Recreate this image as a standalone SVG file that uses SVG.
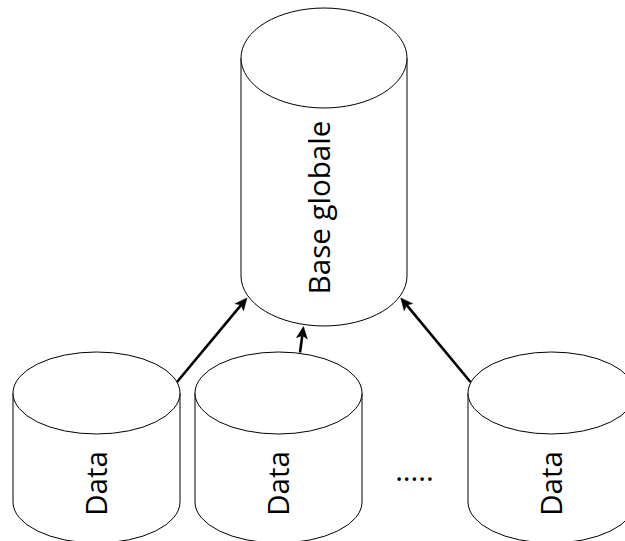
<svg xmlns="http://www.w3.org/2000/svg" width="625" height="541" viewBox="0 0 625 541">
<style>
.cyl{fill:#fff;stroke:#000;stroke-width:1}
.lbl{font-family:"Open Sans","DejaVu Sans",sans-serif;font-size:29.5px;fill:#000;text-anchor:middle}
.edge{fill:none;stroke:#000;stroke-width:2.6}
</style>
<defs>
<marker id="arr" markerUnits="userSpaceOnUse" markerWidth="14" markerHeight="12" viewBox="0 -6 13 12" refX="3" refY="0" orient="auto">
<path d="M12,0 L0,-5.5 L3,0 L0,5.5 Z" fill="#000" stroke="#000" stroke-width="0.5"/>
</marker>
</defs>
<rect width="625" height="541" fill="#fff"/>
<g id="base-globale">
<path class="cyl" d="M241,58 A83,50 0 0 1 407,58 L407,276 A83,50 0 0 1 241,276 Z"/>
<path class="cyl" fill="none" d="M241,58 A83,50 0 0 0 407,58"/>
<text class="lbl" transform="translate(330,207.5) rotate(-90)">Base globale</text>
</g>
<g id="data1">
<path class="cyl" d="M13,393 A83.5,41 0 0 1 180,393 L180,502 A83.5,41 0 0 1 13,502 Z"/>
<path class="cyl" d="M13,393 A83.5,41 0 0 0 180,393"/>
<text class="lbl" transform="translate(107,483.5) rotate(-90)">Data</text>
</g>
<g id="data2">
<path class="cyl" d="M195,393 A83.5,41 0 0 1 362,393 L362,502 A83.5,41 0 0 1 195,502 Z"/>
<path class="cyl" d="M195,393 A83.5,41 0 0 0 362,393"/>
<text class="lbl" transform="translate(289,483.5) rotate(-90)">Data</text>
</g>
<g id="data3">
<path class="cyl" d="M468,393 A83.5,41 0 0 1 635,393 L635,502 A83.5,41 0 0 1 468,502 Z"/>
<path class="cyl" d="M468,393 A83.5,41 0 0 0 635,393"/>
<text class="lbl" transform="translate(562,483.5) rotate(-90)">Data</text>
</g>
<g id="ellipsis">
<text class="lbl" x="414.5" y="481">.....</text>
</g>
<g id="connectors">
<line class="edge" x1="177" y1="382" x2="241.2" y2="304.9" marker-end="url(#arr)"/>
<line class="edge" x1="300" y1="352.5" x2="302.3" y2="335.4" marker-end="url(#arr)"/>
<line class="edge" x1="470.5" y1="382" x2="406.5" y2="304.9" marker-end="url(#arr)"/>
</g>
</svg>
